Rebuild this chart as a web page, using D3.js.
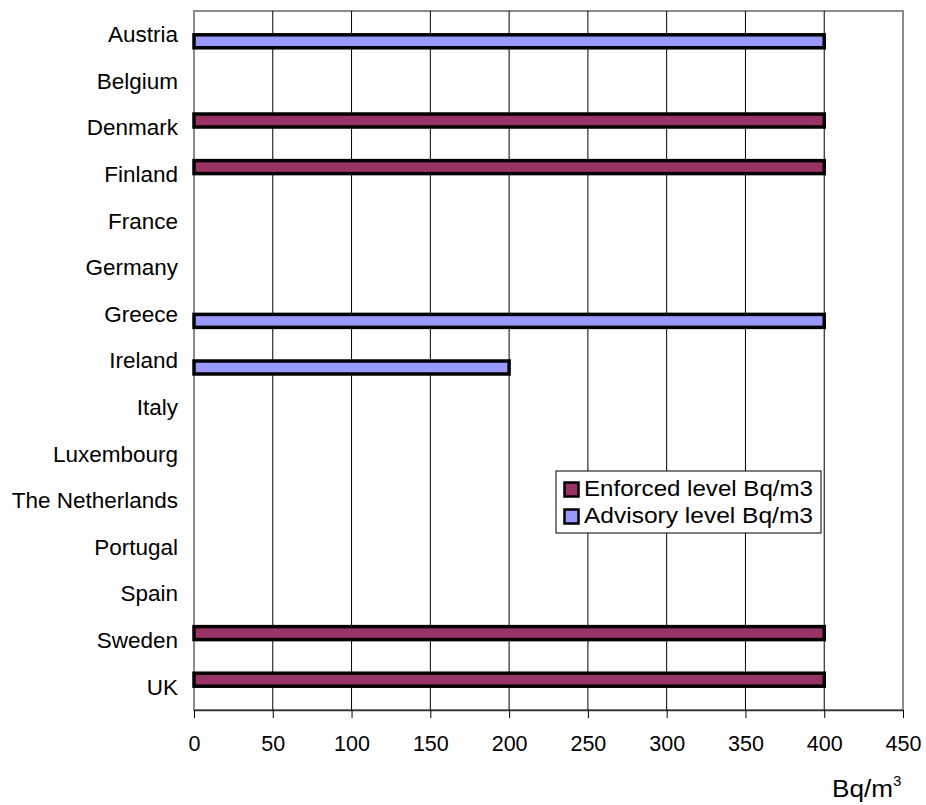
<!DOCTYPE html>
<html>
<head>
<meta charset="utf-8">
<script src="https://cdn.jsdelivr.net/npm/d3@7"></script>
<style>
  html, body { margin: 0; padding: 0; background: #fff; }
  svg { display: block; font-family: Arial, "Liberation Sans", sans-serif; }
</style>
</head>
<body>
<svg id="chart" width="926" height="805"></svg>
<script>
// Radon reference levels in dwellings by country (Bq/m3)
const countries = ["Austria", "Belgium", "Denmark", "Finland", "France", "Germany", "Greece",
  "Ireland", "Italy", "Luxembourg", "The Netherlands", "Portugal", "Spain", "Sweden", "UK"];
const enforcedLevel = [null, null, 400, 400, null, null, null, null, null, null, null, null, null, 400, 400];
const advisoryLevel = [400, null, null, null, null, null, 400, 200, null, null, null, null, null, null, null];
const seriesNames = ["Enforced level Bq/m3", "Advisory level Bq/m3"];
const seriesColors = ["#993366", "#9999FF"];
const xTicks = [0, 50, 100, 150, 200, 250, 300, 350, 400, 450];

const svg = d3.select("#chart");
const plot = { left: 194, right: 903, top: 11, bottom: 710 };

const x = d3.scaleLinear().domain([0, 450]).range([plot.left, plot.right]);
const y = d3.scaleBand().domain(countries).range([plot.top, plot.bottom])
  .paddingInner(0.4).paddingOuter(0.2);
const ySub = d3.scaleBand().domain([0, 1]).range([0, y.bandwidth()]);

// plot area border
svg.append("rect")
  .attr("x", plot.left).attr("y", plot.top)
  .attr("width", plot.right - plot.left).attr("height", plot.bottom - plot.top)
  .attr("fill", "none").attr("stroke", "#8c8c8c").attr("stroke-width", 2);

// vertical gridlines
svg.append("g").selectAll("line")
  .data(xTicks.slice(1, -1))
  .join("line")
  .attr("x1", d => x(d)).attr("x2", d => x(d))
  .attr("y1", plot.top).attr("y2", plot.bottom)
  .attr("stroke", "#000").attr("stroke-width", 1);

// x axis
const xAxis = svg.append("g")
  .attr("transform", `translate(0,${plot.bottom})`)
  .call(d3.axisBottom(x).tickValues(xTicks).tickSize(8).tickPadding(18).tickSizeOuter(0));
xAxis.select(".domain").attr("stroke", "#333").attr("stroke-width", 1.5);
xAxis.selectAll(".tick line").attr("stroke", "#000");
xAxis.selectAll(".tick text")
  .attr("font-size", 21.5).attr("fill", "#000")
  .attr("font-family", "Arial, 'Liberation Sans', sans-serif");

// category labels
svg.append("g").selectAll("text")
  .data(countries)
  .join("text")
  .attr("x", 178)
  .attr("y", d => y(d) + y.bandwidth() / 2)
  .attr("dy", "0.35em")
  .attr("text-anchor", "end")
  .attr("font-size", 22.5)
  .attr("fill", "#000")
  .text(d => d);

// bars
const series = [enforcedLevel, advisoryLevel];
series.forEach((vals, si) => {
  svg.append("g").selectAll("rect")
    .data(countries.map((c, i) => ({ c, v: vals[i] })).filter(d => d.v != null))
    .join("rect")
    .attr("x", x(0))
    .attr("y", d => y(d.c) + ySub(si) + 0.5)
    .attr("width", d => x(d.v) - x(0))
    .attr("height", ySub.bandwidth() - 1)
    .attr("fill", seriesColors[si])
    .attr("stroke", "#000")
    .attr("stroke-width", 3.5);
});

// legend
const legend = svg.append("g").attr("transform", "translate(556,471)");
legend.append("rect")
  .attr("width", 265).attr("height", 62)
  .attr("fill", "#fff").attr("stroke", "#000").attr("stroke-width", 1);
seriesNames.forEach((name, i) => {
  const row = legend.append("g").attr("transform", `translate(0,${10 + i * 27})`);
  row.append("rect")
    .attr("x", 8.5).attr("y", 1.5).attr("width", 14).attr("height", 14)
    .attr("fill", seriesColors[i]).attr("stroke", "#000").attr("stroke-width", 2.5);
  row.append("text")
    .attr("x", 28).attr("y", 15)
    .attr("font-size", 22)
    .attr("textLength", 229)
    .attr("lengthAdjust", "spacingAndGlyphs")
    .attr("fill", "#000")
    .text(name);
});

// axis title with superscript
const unit = svg.append("text")
  .attr("x", 832).attr("y", 797)
  .attr("font-size", 23).attr("fill", "#000");
unit.append("tspan").attr("textLength", 61).attr("lengthAdjust", "spacingAndGlyphs").text("Bq/m");
unit.append("tspan").attr("font-size", 15).attr("dy", -11).text("3");
</script>
</body>
</html>
